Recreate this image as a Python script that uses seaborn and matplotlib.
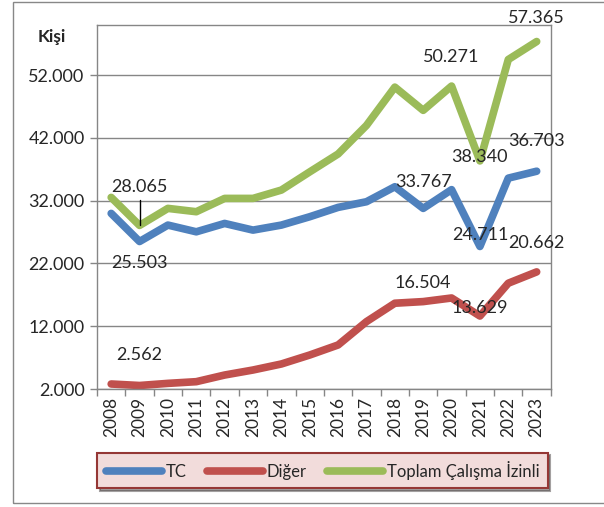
import pandas as pd
import numpy as np
import matplotlib.pyplot as plt
import seaborn as sns
from matplotlib.patches import Rectangle
from matplotlib.lines import Line2D

# data
years = [str(y) for y in range(2008, 2024)]
tc = [29980, 25503, 28120, 27050, 28380, 27320, 28120, 29450,
      30940, 31840, 34230, 30780, 33767, 24711, 35600, 36703]
diger = [2800, 2562, 2900, 3170, 4230, 5030, 5990, 7420,
         9020, 12740, 15670, 15930, 16504, 13629, 18860, 20662]
toplam = [32530, 28065, 30780, 30250, 32370, 32370, 33700, 36600,
          39450, 44000, 50100, 46400, 50271, 38340, 54500, 57365]
series_names = ['TC', 'Diğer', 'Toplam Çalışma İzinli']
colors = ['#4f81bd', '#c0504d', '#9bbb59']

# labelled values: (series, year index) and where the text sits (year index, y)
label_src = [(2, 15), (2, 12), (0, 15), (2, 13), (0, 12), (2, 1),
             (0, 1), (0, 13), (1, 15), (1, 12), (1, 13), (1, 1)]
label_at = [(15, 61100), (12, 54900), (15, 41500), (13, 38950), (11, 34980), (1, 34180),
            (1, 22070), (13, 26530), (15, 25260), (11, 18890), (13, 14900), (1, 7420)]

def fmt(v):
    return f"{int(v):,}".replace(",", ".")

sns.set_style("white")
plt.rcParams['font.family'] = ['Lato', 'DejaVu Sans']

df = pd.DataFrame({'idx': list(range(16)) * 3,
                   'val': tc + diger + toplam,
                   'seri': sum([[n] * 16 for n in series_names], [])})

fig = plt.figure(figsize=(6.04, 5.07), dpi=100)
ax = fig.add_axes([0.1606, 0.2327, 0.912 - 0.1606, 0.9507 - 0.2327])

sns.lineplot(data=df, x='idx', y='val', hue='seri', palette=colors, ax=ax,
             linewidth=5.5, legend=False, solid_capstyle='round', solid_joinstyle='round')

ax.set_xlim(-0.5, 15.5)
ax.set_ylim(2000, 60000)
ax.set_yticks(range(2000, 60000, 10000))
ax.set_yticklabels([fmt(v) for v in range(2000, 60000, 10000)], fontsize=13)
ax.set_xticks(range(16))
ax.set_xticklabels(years, rotation=90, fontsize=12.5)
ax.set_xticks(np.arange(-0.5, 16, 1), minor=True)
ax.tick_params(axis='x', which='major', length=0, pad=6)
ax.tick_params(axis='x', which='minor', length=5, color='#868686', width=1, direction='out', bottom=True)
ax.tick_params(axis='y', length=5, color='#868686', width=1, direction='out', left=True, pad=4)
ax.yaxis.grid(True, color='#868686', linewidth=1)
ax.set_axisbelow(True)
for s in ax.spines.values():
    s.set_color('#868686')
    s.set_linewidth(1)
ax.set_xlabel('')
ax.set_ylabel('')

all_series = [tc, diger, toplam]
for (si, yi), (tx, ty) in zip(label_src, label_at):
    ax.text(tx, ty, fmt(all_series[si][yi]), ha='center', va='center', fontsize=13, clip_on=False)

# leader line for 28.065
ax.plot([1, 1], [32100, toplam[1]], color='black', linewidth=1)

fig.text(0.086, 0.927, 'Kişi', fontsize=12.5, fontweight='bold', ha='center', va='center')

# outer chart frame
fig.patches.append(Rectangle((0.0215, 0.008), 1.2, 0.988, transform=fig.transFigure,
                             fill=False, edgecolor='#888888', linewidth=1))

handles = [Line2D([], [], color=c, linewidth=5.5, solid_capstyle='round') for c in colors]
leg = fig.legend(handles, series_names, loc='center', bbox_to_anchor=(0.534, 0.072),
                 ncol=3, fontsize=12, frameon=True, fancybox=False, shadow=True,
                 handlelength=3.4, columnspacing=1.2, handletextpad=0.2,
                 borderpad=0.5, borderaxespad=0)
leg.get_frame().set_facecolor('#f2dcdb')
leg.get_frame().set_edgecolor('#953735')
leg.get_frame().set_linewidth(1.5)

fig.savefig('out.png', dpi=100)
